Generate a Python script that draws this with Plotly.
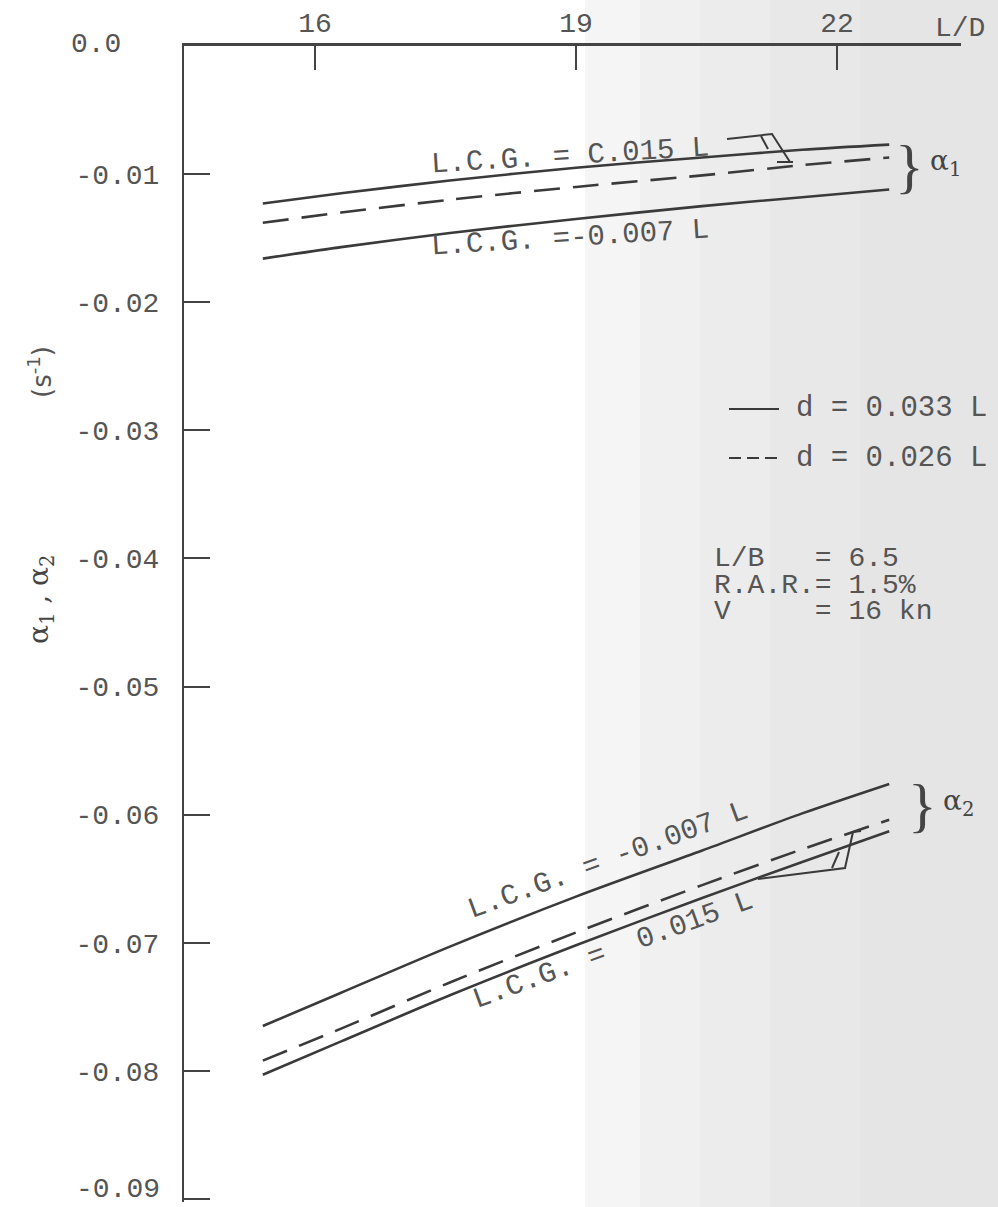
import plotly.graph_objects as go

# ---------------- data ----------------
ld = [15.4, 16.3, 17.55, 19.0, 20.45, 21.6, 22.6]

# alpha_1 group
a1_lcg_p015_d033 = [-0.0123, -0.0115, -0.0105, -0.0095, -0.0087, -0.0081, -0.0077]
a1_d026 = [-0.0138, -0.0130, -0.0120, -0.0110, -0.0101, -0.0093, -0.0087]
a1_lcg_m007_d033 = [-0.0166, -0.0157, -0.0146, -0.0135, -0.0125, -0.0118, -0.0112]

# alpha_2 group
a2_lcg_m007_d033 = [-0.0765, -0.0739, -0.0703, -0.0664, -0.0628, -0.0599, -0.0576]
a2_d026 = [-0.0792, -0.0767, -0.0731, -0.0692, -0.0655, -0.0627, -0.0604]
a2_lcg_p015_d033 = [-0.0803, -0.0777, -0.0741, -0.0702, -0.0665, -0.0637, -0.0613]

x_ticks = [16, 19, 22]
x_ticklabels = ["16", "19", "22"]
y_ticks = [-0.01, -0.02, -0.03, -0.04, -0.05, -0.06, -0.07, -0.08, -0.09]
y_ticklabels = ["-0.01", "-0.02", "-0.03", "-0.04", "-0.05", "-0.06", "-0.07", "-0.08", ""]
y_bottom_label = "-0.09"   # drawn as a label so it is not cut at the page edge

# ---------------- styling ----------------
FONT = "Liberation Mono, DejaVu Sans Mono, monospace"
INK = "#3a3a3a"
TXT = "#555555"
FS = 28

W, H = 998, 1207
OFF = 0                      # body margin removed below
L_M, T_M = 184, 46
PW, PH = 777, 1156
R_M = W - L_M - PW
B_M = H - T_M - PH
X0, X1 = 14.494, 23.425
Y1 = 0.0
Y0 = -PH / 12811.0

def pxp(xp, yp):
    """page pixel position -> paper coordinates (for labels / decorations)"""
    xf, yf = xp - OFF, yp - OFF
    return (xf - L_M) / PW, (T_M + PH - yf) / PH

fig = go.Figure()

solid = dict(color=INK, width=2.6)
dashed = dict(color=INK, width=2.6, dash="26px,13px")

for ys, ln in [(a1_lcg_p015_d033, solid), (a1_d026, dashed), (a1_lcg_m007_d033, solid),
               (a2_lcg_m007_d033, solid), (a2_d026, dashed), (a2_lcg_p015_d033, solid)]:
    fig.add_trace(go.Scatter(x=ld, y=ys, mode="lines", line=dict(ln, shape="spline", smoothing=0.8),
                             showlegend=False, hoverinfo="skip"))

annotations = []

def txt(s, xp, yp, size=FS, angle=0, xanchor="center", yanchor="middle", color=TXT, family=FONT):
    x, y = pxp(xp, yp)
    annotations.append(dict(x=x, y=y, xref="paper", yref="paper", text=s, showarrow=False,
                            textangle=angle, xanchor=xanchor, yanchor=yanchor, borderpad=0,
                            font=dict(family=family, size=size, color=color)))

NB = "\u00a0"
txt("L.C.G." + NB + "=" + NB + "C.015" + NB + "L", 570, 156, size=29, angle=-3.5)
txt("L.C.G." + NB + "=-0.007" + NB + "L", 570, 238, size=29, angle=-3.5)
txt("L.C.G." + NB + "=" + NB + "-0.007" + NB + "L", 608, 860, size=29, angle=-20)
txt("L.C.G." + NB + "=" + NB + NB + "0.015" + NB + "L", 613, 950, size=29, angle=-20)

# braces + alpha labels
txt("}", 909, 166, size=60, color="#444", family="Liberation Serif")
txt("α<sub>1</sub>", 945, 162, size=28, color="#444", family="DejaVu Serif")
txt("}", 922, 805, size=60, color="#444", family="Liberation Serif")
txt("α<sub>2</sub>", 958, 802, size=28, color="#444", family="DejaVu Serif")

# legend
txt("d" + NB + "=" + NB + "0.033" + NB + "L", 795, 408, size=29, xanchor="left")
txt("d" + NB + "=" + NB + "0.026" + NB + "L", 795, 458, size=29, xanchor="left")

# parameter block
txt("L/B" + NB * 3 + "=" + NB + "6.5", 713, 558, size=28, xanchor="left")
txt("R.A.R.=" + NB + "1.5%", 713, 585, size=28, xanchor="left")
txt("V" + NB * 5 + "=" + NB + "16" + NB + "kn", 713, 611, size=28, xanchor="left")

# corner labels
txt("0.0", 96, 44)
txt("L/D", 960, 28)
txt(y_bottom_label, 118, 1206, yanchor="bottom")

# y-axis title pieces (rotated)
txt("α<sub>1</sub>" + NB + "," + NB + "α<sub>2</sub>", 40, 600, size=28, angle=-90, color="#444", family="DejaVu Serif")
txt("(s<sup>-1</sup>)", 40, 372, size=26, angle=-90, color="#555", family="DejaVu Sans")

# ---------------- shapes: scan background tint, legend lines, leaders ----------------
shapes = []

bands = [(585, 640, "#f5f5f5"), (640, 700, "#f0f0f0"), (700, 770, "#ececec"),
         (770, 860, "#e8e8e8"), (860, 1010, "#e5e5e5")]
for a, b, c in bands:
    xa, ytop = pxp(a, -10)
    xb, ybot = pxp(b, H + 10)
    shapes.append(dict(type="rect", xref="paper", yref="paper", x0=xa, x1=xb,
                       y0=ybot, y1=ytop, fillcolor=c, line=dict(width=0), layer="below"))

def seg(points, width=2.0, dash=None):
    d = ""
    for i, (xp, yp) in enumerate(points):
        x, y = pxp(xp, yp)
        d += ("M" if i == 0 else "L") + f"{x:.5f},{y:.5f} "
    ln = dict(color=INK, width=width)
    if dash:
        ln["dash"] = dash
    shapes.append(dict(type="path", xref="paper", yref="paper", path=d.strip(), line=ln))

# legend samples
seg([(729, 409), (779, 409)])
seg([(729, 458), (779, 458)], dash="12px,6px")

# leaders alpha_1
seg([(727, 139), (772, 134), (790, 162)])
seg([(761, 136), (768, 149)])
seg([(777, 162), (793, 162)])
# leaders alpha_2
seg([(758, 879), (845, 868), (853, 832), (861, 831)])
seg([(832, 868), (839, 852)])

fig.update_layout(
    width=W, height=H,
    margin=dict(l=L_M, r=R_M, t=T_M, b=B_M, pad=0, autoexpand=False),
    paper_bgcolor="white", plot_bgcolor="rgba(0,0,0,0)",
    annotations=annotations, shapes=shapes,
    font=dict(family=FONT, size=FS, color=TXT),
    xaxis=dict(range=[X0, X1], side="top", showline=True, linewidth=3, linecolor="#444",
               showgrid=False, zeroline=False, ticks="inside", ticklen=24, tickwidth=2,
               tickcolor="#444", tickvals=x_ticks, ticktext=x_ticklabels, automargin=False,
               tickfont=dict(family=FONT, size=FS, color=TXT)),
    yaxis=dict(range=[Y0, Y1], showline=True, linewidth=2, linecolor="#444",
               showgrid=False, zeroline=False, ticks="inside", ticklen=26, tickwidth=2,
               tickcolor="#444", tickvals=y_ticks, ticktext=y_ticklabels, automargin=False,
               ticklabeloverflow="allow",
               ticklabelstandoff=17, tickfont=dict(family=FONT, size=FS, color=TXT)),
)

fig.write_html("out.html", config={"displayModeBar": False},
               post_script="document.body.style.margin='0px';document.body.style.overflow='hidden';")
